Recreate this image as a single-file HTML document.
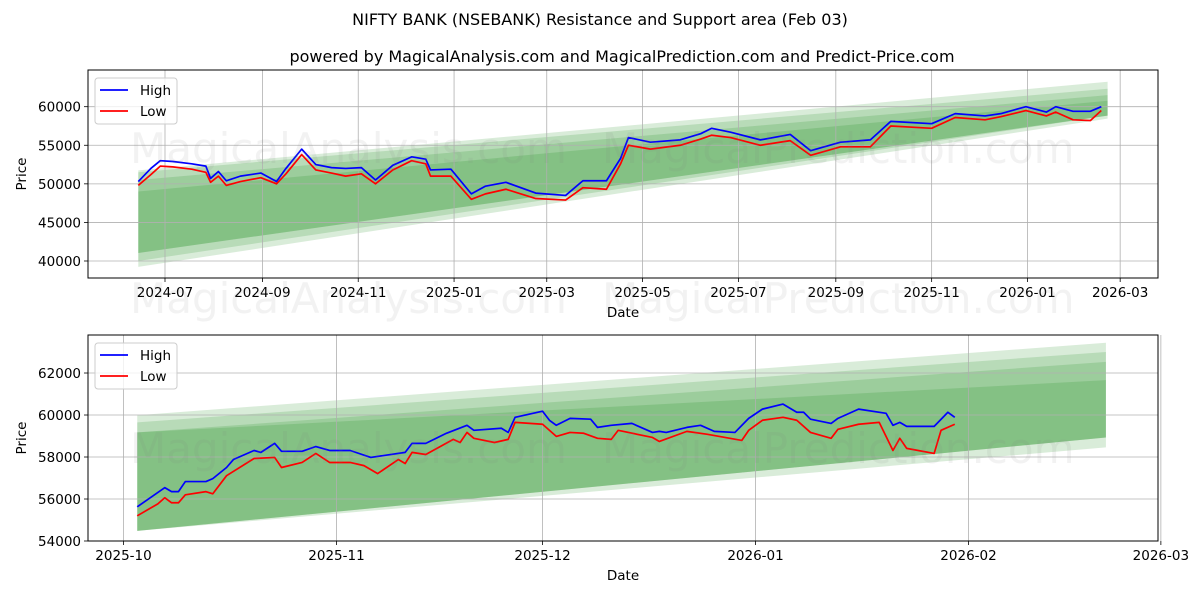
<!DOCTYPE html>
<html><head><meta charset="utf-8"><style>
body{margin:0;background:#fff;}
svg{display:block;font-family:"DejaVu Sans","Liberation Sans",sans-serif;}
</style></head><body>
<svg id="chart" width="1200" height="600" viewBox="0 0 1200 600" xmlns="http://www.w3.org/2000/svg">
<rect width="1200" height="600" fill="#fff"/>
<text x="600" y="25" text-anchor="middle" font-size="16">NIFTY BANK (NSEBANK) Resistance and Support area (Feb 03)</text>
<text x="622" y="62" text-anchor="middle" font-size="16">powered by MagicalAnalysis.com and MagicalPrediction.com and Predict-Price.com</text>
<g id="top"></g>
<g id="bot"></g>
<g font-size="42" fill="#808080" fill-opacity="0.1">
<text x="130" y="163">MagicalAnalysis.com</text><text x="602" y="163">MagicalPrediction.com</text>
<text x="130" y="313">MagicalAnalysis.com</text><text x="602" y="313">MagicalPrediction.com</text>
<text x="130" y="463">MagicalAnalysis.com</text><text x="602" y="463">MagicalPrediction.com</text>
</g>
</svg>
<script>
// ---- top chart data (days since 2024-07-01) ----
const topDays=[-17,-9,-3,5,17,26,29,34,39,48,61,71,77,87,96,106,115,125,134,145,157,166,169,182,195,204,217,236,255,266,281,290,295,309,328,341,348,360,379,398,411,430,449,462,488,503,522,532,548,561,567,578,589,596];
const topHigh=[50300,52000,53000,52900,52600,52300,50700,51600,50400,51000,51400,50300,52000,54500,52500,52100,52000,52100,50500,52400,53500,53200,51800,51900,48700,49700,50200,48800,48500,50400,50400,53300,56000,55400,55700,56500,57200,56700,55700,56400,54300,55400,55700,58100,57800,59100,58800,59100,60000,59300,60000,59400,59400,60000];
const topLow=[49800,51200,52300,52200,51900,51500,50200,51000,49800,50300,50800,50000,51300,53800,51800,51400,51000,51300,50000,51800,53000,52600,51000,51000,48000,48700,49300,48100,47900,49500,49300,52600,55000,54500,55000,55800,56300,56000,55000,55600,53700,54800,54800,57500,57200,58600,58300,58700,59500,58800,59300,58300,58200,59500];
const topBandStartDay=-17, topBandEndDay=600;
const topBandUpStart=[51740,51500,50500,49000];
const topBandUpEnd=[63230,62320,61500,60770];
const topBandLoStart=[39230,40000,41040,41040];
const topBandLoEnd=[58450,58840,58840,58840];
const topYTicks=[40000,45000,50000,55000,60000];
const topXTickDays=[0,62,123,184,243,304,365,427,488,549,608];
const topXTickLabels=["2024-07","2024-09","2024-11","2025-01","2025-03","2025-05","2025-07","2025-09","2025-11","2026-01","2026-03"];
// ---- bottom chart data (days since 2025-10-01) ----
const botHighDays=[2,6,7,8,9,12,13,15,16,19,20,22,23,26,28,30,33,36,41,42,44,47,50,51,55,56,57,61,62,63,65,68,69,71,74,77,78,79,82,84,86,89,91,93,96,98,99,100,103,104,107,111,112,113,114,118,120,121];
const botHigh=[55630,56540,56350,56350,56830,56830,56970,57500,57880,58310,58220,58650,58270,58270,58500,58310,58310,57980,58220,58650,58650,59130,59510,59270,59370,59170,59890,60180,59750,59510,59840,59800,59410,59510,59600,59170,59220,59170,59410,59510,59220,59170,59840,60280,60520,60130,60130,59800,59600,59840,60280,60080,59510,59650,59460,59460,60130,59890];
const botLowDays=[2,5,6,7,8,9,12,13,15,19,22,23,26,28,30,33,35,37,40,41,42,44,48,49,50,51,54,56,57,61,63,65,67,69,71,72,77,78,82,85,90,91,93,96,98,100,103,104,107,110,112,113,114,118,119,121];
const botLow=[55200,55770,56060,55820,55820,56200,56350,56250,57110,57930,57980,57500,57740,58170,57740,57740,57590,57210,57880,57690,58220,58120,58840,58690,59170,58890,58690,58840,59650,59560,58980,59170,59130,58890,58840,59270,58930,58740,59220,59080,58790,59270,59750,59890,59750,59170,58890,59320,59560,59650,58310,58890,58410,58170,59270,59560];
const botBandStartDay=2, botBandEndDay=143;
const botBandUpStart=[59990,59650,59170,59170];
const botBandUpEnd=[63440,63000,62530,61660];
const botBandLoStart=[54480,54480,54480,54480];
const botBandLoEnd=[58460,58930,58930,58930];
const botYTicks=[54000,56000,58000,60000,62000];
const botXTickDays=[0,31,61,92,123,151];
const botXTickLabels=["2025-10","2025-11","2025-12","2026-01","2026-02","2026-03"];

const NS="http://www.w3.org/2000/svg";
function mk(tag,attrs,parent){const e=document.createElementNS(NS,tag);for(const k in attrs)e.setAttribute(k,attrs[k]);parent.appendChild(e);return e;}

function panel(g,cfg){
  const {L,T,R,B,x0,pxPerDay,yMin,yMax}=cfg;
  const xs=d=>x0+d*pxPerDay;
  const ys=v=>B-(v-yMin)/(yMax-yMin)*(B-T);
  for(let i=0;i<cfg.upS.length;i++){
    const p=mk('polygon',{points:`${xs(cfg.bs)},${ys(cfg.upS[i])} ${xs(cfg.be)},${ys(cfg.upE[i])} ${xs(cfg.be)},${ys(cfg.loE[i])} ${xs(cfg.bs)},${ys(cfg.loS[i])}`,fill:'#008000','fill-opacity':0.15},g);
    
    
  }
  cfg.yTicks.forEach(v=>{
    const y=ys(v);
    mk('line',{x1:L,x2:R,y1:y,y2:y,stroke:'#b0b0b0','stroke-width':0.8},g);
    mk('line',{x1:L-4,x2:L,y1:y,y2:y,stroke:'#000','stroke-width':0.8},g);
    const t=mk('text',{x:L-7,y:y+5,'text-anchor':'end','font-size':13.5},g);t.textContent=v;
    
    
  });
  cfg.xDays.forEach((d,i)=>{
    const x=xs(d);
    mk('line',{x1:x,x2:x,y1:T,y2:B,stroke:'#b0b0b0','stroke-width':0.8},g);
    mk('line',{x1:x,x2:x,y1:B,y2:B+4,stroke:'#000','stroke-width':0.8},g);
    const t=mk('text',{x:x,y:B+19,'text-anchor':'middle','font-size':13.5},g);t.textContent=cfg.xLabels[i];
    
    
  });
  const hp=cfg.hd.map((d,i)=>xs(d)+','+ys(cfg.hv[i])).join(' ');
  const lp=cfg.ld.map((d,i)=>xs(d)+','+ys(cfg.lv[i])).join(' ');
  const hl=mk('polyline',{points:hp,fill:'none',stroke:'#0000ff','stroke-width':1.7,'stroke-linejoin':'round'},g);
  
  
  const ll=mk('polyline',{points:lp,fill:'none',stroke:'#ff0000','stroke-width':1.7,'stroke-linejoin':'round'},g);
  
  
  const fr=mk('rect',{x:L,y:T,width:R-L,height:B-T,fill:'none',stroke:'#000','stroke-width':1},g);
  
  
  const xl=mk('text',{x:(L+R)/2,y:B+39,'text-anchor':'middle','font-size':13.5},g);xl.textContent='Date';
  
  
  const yl=mk('text',{x:0,y:0,'text-anchor':'middle','font-size':13.5,transform:`translate(26,${(T+B)/2}) rotate(-90)`},g);yl.textContent='Price';
  
  
  const lg=mk('g',{},g);
  
  
  mk('rect',{x:L+7,y:T+8,width:82,height:46,rx:3,fill:'#fff','fill-opacity':0.8,stroke:'#ccc'},lg);
  mk('line',{x1:L+12,x2:L+40,y1:T+20,y2:T+20,stroke:'#0000ff','stroke-width':1.7},lg);
  mk('line',{x1:L+12,x2:L+40,y1:T+41,y2:T+41,stroke:'#ff0000','stroke-width':1.7},lg);
  const t1=mk('text',{x:L+52,y:T+25,'font-size':13.5},lg);t1.textContent='High';
  
  
  const t2=mk('text',{x:L+52,y:T+46,'font-size':13.5},lg);t2.textContent='Low';
  
  
}
panel(document.getElementById('top'),{L:88,T:70,R:1158,B:278,x0:165,pxPerDay:1.571,yMin:37796,yMax:64756,
  bs:topBandStartDay,be:topBandEndDay,upS:topBandUpStart,upE:topBandUpEnd,loS:topBandLoStart,loE:topBandLoEnd,
  yTicks:topYTicks,xDays:topXTickDays,xLabels:topXTickLabels,hd:topDays,hv:topHigh,ld:topDays,lv:topLow});
panel(document.getElementById('bot'),{L:88,T:335,R:1158,B:541,x0:123.5,pxPerDay:6.87,yMin:54000,yMax:63810,
  bs:botBandStartDay,be:botBandEndDay,upS:botBandUpStart,upE:botBandUpEnd,loS:botBandLoStart,loE:botBandLoEnd,
  yTicks:botYTicks,xDays:botXTickDays,xLabels:botXTickLabels,hd:botHighDays,hv:botHigh,ld:botLowDays,lv:botLow});
</script>
</body></html>
